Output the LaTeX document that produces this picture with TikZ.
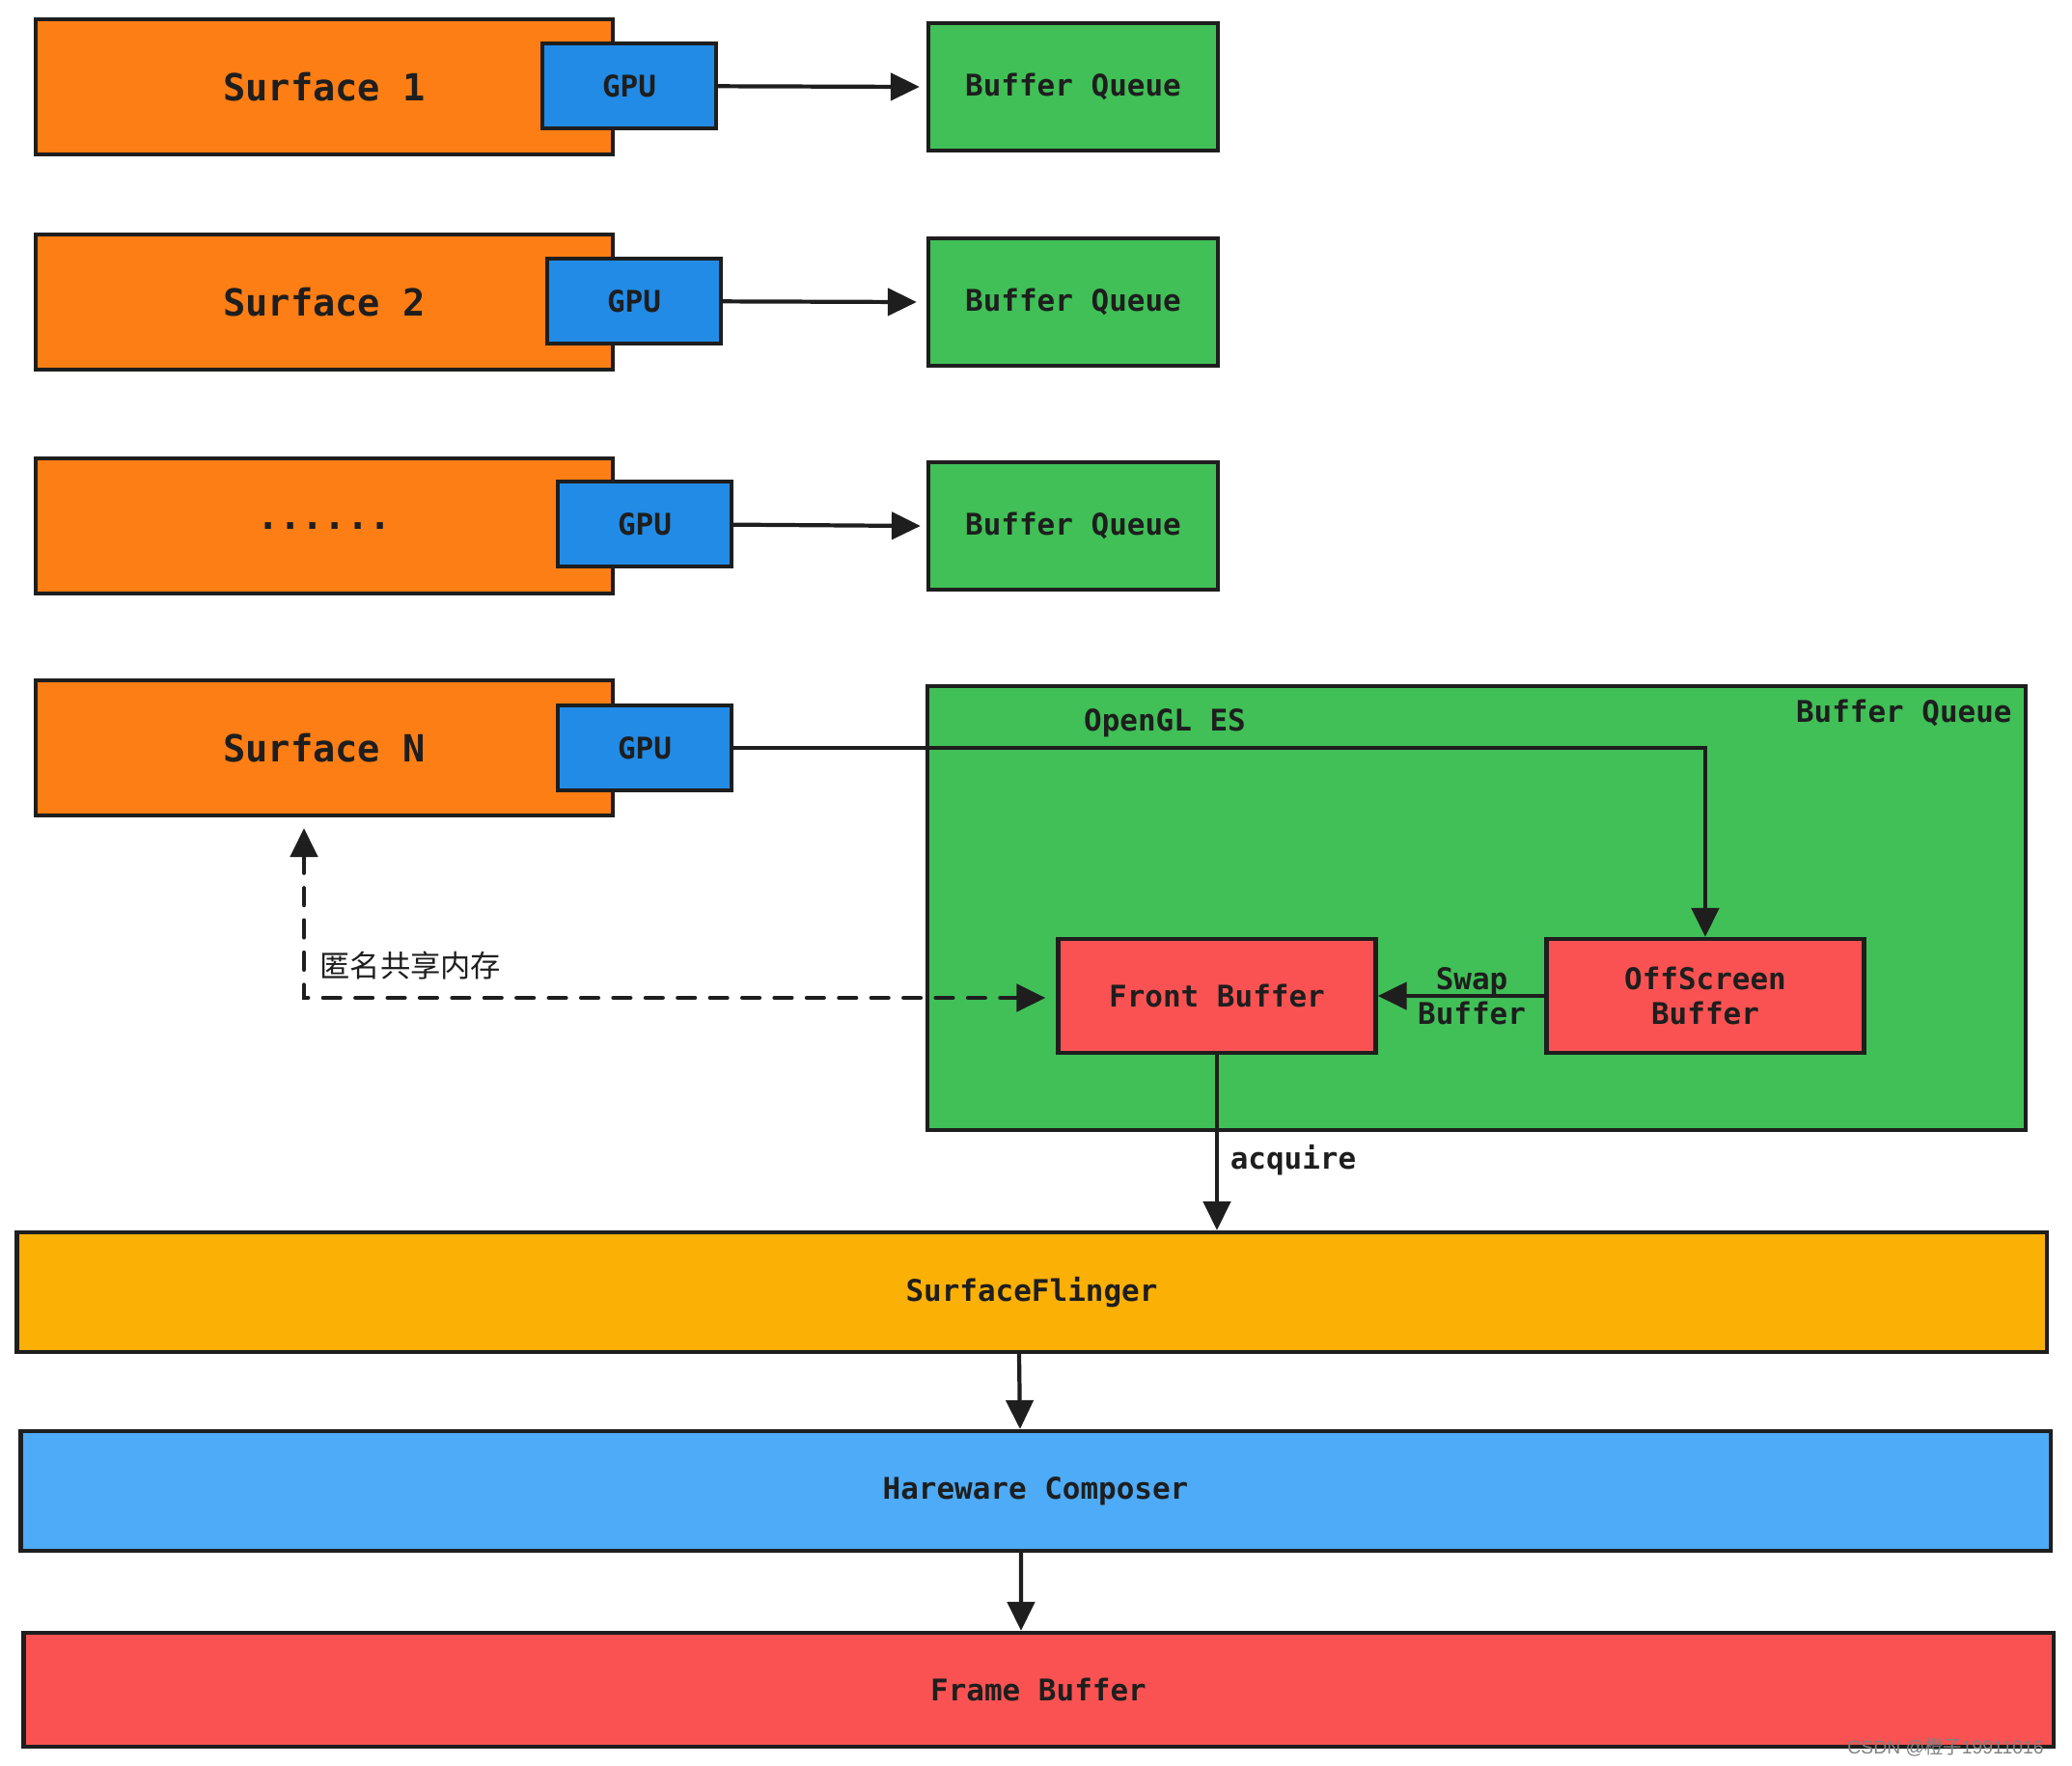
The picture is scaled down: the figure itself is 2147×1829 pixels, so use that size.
\documentclass[tikz,border=0pt]{standalone}
\usepackage{fontspec}
\setmonofont{DejaVu Sans Mono}
\newfontfamily\cjkfont{Noto Sans CJK SC}
\newfontfamily\markfont{Liberation Sans}
\usetikzlibrary{arrows.meta}
\definecolor{ink}{HTML}{1E1E1E}
\definecolor{surforange}{HTML}{FD7E14}
\definecolor{gpublue}{HTML}{228BE6}
\definecolor{queuegreen}{HTML}{40C057}
\definecolor{bufred}{HTML}{FA5252}
\definecolor{flingeryellow}{HTML}{FAB005}
\definecolor{hwcblue}{HTML}{4DABF7}

\begin{document}
\begin{tikzpicture}[x=0.01cm, y=-0.01cm, >={Triangle[length=8.5pt,width=8pt]},
    every node/.style={font=\ttfamily\bfseries\fontsize{8.8}{10.2}\selectfont, text=ink},
    box/.style={draw=ink, line width=1.2pt, inner sep=0pt, align=center},
    surf/.style={box, fill=surforange, minimum width=5.97cm, minimum height=1.40cm,
                 font=\ttfamily\bfseries\fontsize{11}{13}\selectfont},
    gpu/.style={box, fill=gpublue, minimum width=1.80cm, minimum height=0.88cm},
    queue/.style={box, fill=queuegreen, minimum width=3.00cm, minimum height=1.32cm},
    buf/.style={box, fill=bufred, minimum width=3.29cm, minimum height=1.18cm},
    layer/.style={box, minimum width=21.02cm, minimum height=1.24cm},
    wire/.style={draw=ink, line width=1.2pt},
    dashwire/.style={wire, line width=1.3pt, line cap=round, dash pattern=on 5pt off 4.5pt}]
  \useasboundingbox (0,0) rectangle (2147,1829);

  % surfaces with their gpu
  \node[surf] (s1) at (336,90) {Surface 1};
  \node[surf] (s2) at (336,313) {Surface 2};
  \node[surf] (s3) at (336,545) {......};
  \node[surf] (sN) at (336,775) {Surface N};
  \node[gpu] (g1) at (652,89) {GPU};
  \node[gpu] (g2) at (657,312) {GPU};
  \node[gpu] (g3) at (668,543) {GPU};
  \node[gpu] (gN) at (668,775) {GPU};

  % buffer queues
  \node[queue] (q1) at (1112,90) {Buffer Queue};
  \node[queue] (q2) at (1112,313) {Buffer Queue};
  \node[queue] (q3) at (1112,545) {Buffer Queue};
  \node[box, fill=queuegreen, minimum width=11.37cm, minimum height=4.60cm] (qN) at (1530,941) {};
  \node (gles) at (1207,749) {OpenGL ES};
  \node[anchor=east] (qlabel) at (2097,739) {Buffer Queue};

  \draw[wire,->] (g1) -- ([xshift=-0.07cm]q1.west);
  \draw[wire,->] (g2) -- ([xshift=-0.10cm]q2.west);
  \draw[wire,->] (g3) -- ([xshift=-0.06cm]q3.west);

  \node[buf] (front) at (1261,1032) {Front Buffer};
  \node[buf] (off) at (1767,1032) {OffScreen\\Buffer};
  \draw[wire,->] (gN.east) -- (gN.east -| off.north) -- (off.north);
  \draw[wire,->] (off.west) -- (front.east) node[midway, xshift=0.11cm, align=center] {Swap\\Buffer};

  % shared memory
  \coordinate (shm) at (315,1034);
  \draw[dashwire,<->,shorten <=0.11cm,shorten >=0.11cm] (sN.south -| shm) -- (shm) -- (front.west |- shm);
  \node[anchor=west, font=\cjkfont\fontsize{8.9}{10}\selectfont] (shmlabel) at (319,1001) {匿名共享内存};

  % composition layers
  \node[layer, fill=flingeryellow] (sf) at (1069,1339) {SurfaceFlinger};
  \node[layer, fill=hwcblue] (hwc) at (1073,1545) {Hareware Composer};
  \node[layer, fill=bufred, minimum height=1.18cm] (fb) at (1076,1751) {Frame Buffer};
  \draw[wire,->] (front.south) -- (front.south |- sf.north) node[pos=0.6, right] {acquire};
  \draw[wire,->] ([xshift=-0.13cm]sf.south) -- ([xshift=-0.16cm]hwc.north);
  \draw[wire,->] ([xshift=-0.15cm]hwc.south) -- ([xshift=-0.18cm]fb.north);

  \node[anchor=east, font=\markfont\fontsize{5.5}{6}\selectfont, text=gray] (mark) at (2130,1811) {CSDN @\cjkfont 橙子\markfont 19911016};
\end{tikzpicture}
\end{document}
